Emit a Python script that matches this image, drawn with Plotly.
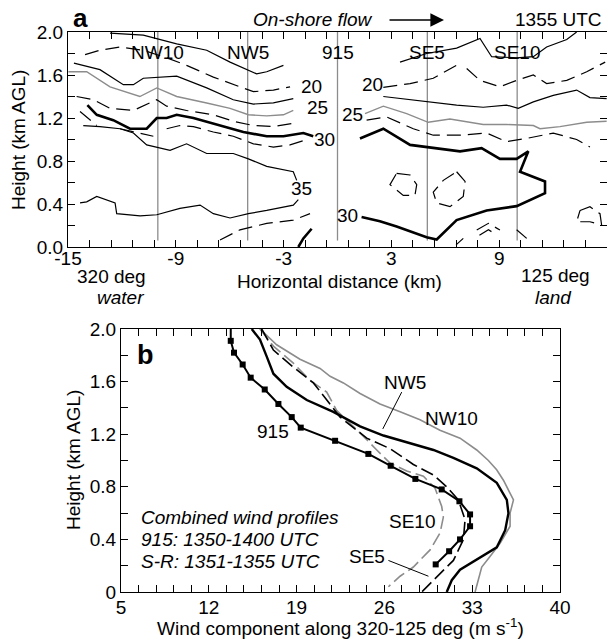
import plotly.graph_objects as go

# ---------------- Panel a : contour lines (km, km AGL) ----------------
stations_x = [-10, -5, 0, 5, 10]
stations_lbl = ["NW10", "NW5", "915", "SE5", "SE10"]
dist_ticks = [-15, -9, -3, 3, 9, 15]
dist_tick_text = ["-15", "-9", "-3", "3", "9", "15"]
height_ticks = [0, 0.4, 0.8, 1.2, 1.6, 2.0]
height_text_a = ["0.0", "0.4", "0.8", "1.2", "1.6", "2.0"]
height_text_b = ["0", "0.4", "0.8", "1.2", "1.6", "2.0"]
wind_ticks = [5, 12, 19, 26, 33, 40]

top_left_x = [-12.66, -10.81, -8.95, -7.28, -5.98, -5.06, -4.5, -3.94, -3.01]
top_left_y = [1.99, 1.97, 1.89, 1.83, 1.72, 1.65, 1.61, 1.63, 1.69]
top_right_x = [3.48, 4.96, 6.63, 7.93, 8.58, 9.97, 10.9, 11.64, 12.76, 13.31]
top_right_y = [1.72, 1.80, 1.85, 1.94, 1.77, 1.76, 1.77, 1.86, 1.93, 2.0]

d20_left_x = [-14.05, -13.22, -12.1, -10.81, -9.51, -8.4, -6.91, -5.8, -4.68, -3.57, -2.64]
d20_left_y = [1.79, 1.83, 1.86, 1.83, 1.76, 1.69, 1.58, 1.51, 1.445, 1.46, 1.49]
d20_right_x = [2.55, 4.04, 5.33, 6.63, None, 7.19, 7.93, 9.04, 9.97, 10.9, 11.64, 12.76, 13.87, 14.9]
d20_right_y = [1.485, 1.52, 1.57, 1.69, None, 1.66, 1.55, 1.49, 1.55, 1.60, 1.52, 1.55, 1.63, 1.72]

s22_left_x = [-14.67, -13.22, -11.92, -11.36, -10.81, -8.95, -7.28, -5.8, -4.68, -3.57, -2.46]
s22_left_y = [1.71, 1.65, 1.51, 1.51, 1.57, 1.59, 1.48, 1.37, 1.33, 1.34, 1.38]
s22_right_x = [2.55, 4.04, 5.33, 6.63, 8.11, 9.41, 10.06, 10.9, 12.01, 13.31, 14.05, 14.98]
s22_right_y = [1.40, 1.37, 1.35, 1.32, 1.30, 1.32, 1.29, 1.35, 1.41, 1.46, 1.39, 1.38]

g25_left_x = [-14.98, -13.96, -12.66, -11.0, -10.06, -8.95, -7.28, -5.98, -4.96, -3.94, -3.01, -2.46]
g25_left_y = [1.63, 1.63, 1.49, 1.40, 1.48, 1.40, 1.34, 1.29, 1.23, 1.22, 1.23, 1.27]
g25_right_x = [1.53, 2.55, 3.85, 5.05, 6.26, 8.11, 9.41, 10.9, 11.27, 12.38, 13.87, 14.98]
g25_right_y = [1.24, 1.31, 1.24, 1.16, 1.19, 1.14, 1.14, 1.13, 1.10, 1.12, 1.16, 1.17]

d27_left_x = [-14.52, -13.59, -12.66, -11.36, -10.06, -9.51, -8.4, -6.91, -5.8, -4.68, -3.57, -2.46]
d27_left_y = [1.40, 1.37, 1.29, 1.27, 1.37, 1.31, 1.27, 1.23, 1.17, 1.13, 1.12, 1.15]
d27_right_x = [1.62, 2.73, 4.22, 5.33, 6.82, 8.3, 9.41, 10.53, 12.01, 13.31, 14.05]
d27_right_y = [1.18, 1.21, 1.10, 1.04, 1.04, 1.06, 0.98, 1.01, 1.06, 1.0, 0.93]

s30_left_x = [-13.92, -13.4, -12.48, -11.55, -10.62, -10.06, -9.51, -8.95, -8.02, -6.73, -5.24, -3.94, -3.01, -1.9, -1.35]
s30_left_y = [1.32, 1.23, 1.18, 1.10, 1.10, 1.20, 1.20, 1.23, 1.20, 1.14, 1.07, 1.03, 1.03, 1.06, 1.03]
s30_right_x = [1.25, 2.55, 4.04, 5.33, 6.82, 8.02, 9.04, 9.97, 10.62, 10.16, 11.55, 11.55, 9.97, 8.3, 6.63, 5.52, 4.96, 3.29, 2.36, 1.34]
s30_right_y = [1.01, 1.10, 0.95, 0.92, 0.89, 0.92, 0.82, 0.82, 0.89, 0.70, 0.61, 0.50, 0.38, 0.34, 0.25, 0.07, 0.09, 0.19, 0.24, 0.28]
s30_bottom_x = [-2.18, -1.9, -1.44]
s30_bottom_y = [0.0, 0.08, 0.17]

d32_left_x = [-14.33, -13.4, None, -12.1, -11.36, -10.25, None, -9.51, -8.77, -8.02, -6.91, -5.8, -4.68, -3.57, -2.64, -1.7]
d32_left_y = [1.26, 1.13, None, 1.10, 1.07, 1.03, None, 1.10, 1.13, 1.12, 1.07, 1.03, 0.96, 0.93, 0.95, 1.0]

s35_x = [-14.15, -13.22, -12.1, -11.36, -10.62, -9.88, -9.32, -8.4, -7.28, -5.8, -4.96, -3.94, -2.46, -2.27,
         None, -2.18, -2.46, -3.94, -4.96, -5.98, -6.91, -7.65, -8.77, -10.06, -10.99, -12.29, -12.38, -13.4, -13.96, -14.33]
s35_y = [1.13, 1.12, 1.10, 1.06, 0.95, 0.92, 0.90, 0.96, 0.87, 0.87, 0.82, 0.75, 0.70, 0.62,
         None, 0.44, 0.39, 0.34, 0.31, 0.27, 0.31, 0.39, 0.36, 0.30, 0.29, 0.31, 0.41, 0.47, 0.42, 0.41]

dbot_x = [-6.54, -5.43, -3.94, -2.46, -1.53]
dbot_y = [0.065, 0.16, 0.22, 0.25, 0.31]

loop1_x = [3.29, 4.04, 4.41, 4.31, 3.66, 2.92, 3.29]
loop1_y = [0.685, 0.67, 0.58, 0.48, 0.48, 0.58, 0.685]
loop2_x = [6.63, 7.1, 7.0, 6.26, 5.52, 5.33, 5.89, 6.63]
loop2_y = [0.70, 0.61, 0.47, 0.375, 0.41, 0.51, 0.62, 0.70]
loop3_x = [13.5, 14.05, 14.61, 14.7, 14.05, 13.31, 13.5]
loop3_y = [0.34, 0.375, 0.31, 0.205, 0.235, 0.235, 0.34]
chev_x = [7.75, 8.4, 9.04, None, 7.9, 8.4, 8.9, None, 9.97, 10.53, None, 6.6, 7.0]
chev_y = [0.158, 0.22, 0.158, None, 0.11, 0.16, 0.11, None, 0.16, 0.08, None, 0.02, 0.08]

contour_labels = ["20", "25", "30", "35", "20", "25", "30"]
contour_lbl_x = [-1.42, -1.09, -0.70, -1.98, 1.92, 0.86, 0.58]
contour_lbl_y = [1.49, 1.30, 1.00, 0.54, 1.51, 1.23, 0.29]

# ---------------- Panel b : wind profiles ----------------
p915_u = [13.75, 13.75, 14.01, 14.70, 15.34, 16.46, 17.55, 18.61, 19.33, 22.07, 24.72, 26.5, 28.47, 30.57, 31.98, 32.83, 32.83, 32.03, 31.16, 30.09]
p915_h = [2.0, 1.91, 1.82, 1.73, 1.63, 1.54, 1.43, 1.33, 1.25, 1.15, 1.05, 0.96, 0.86, 0.78, 0.69, 0.59, 0.50, 0.40, 0.31, 0.21]

nw10_u = [16.08, 17.41, 19.27, 20.87, 21.67, 22.73, 24.06, 25.65, 27.25, 28.84, 30.43, 32.03, 33.36, 34.29, 34.95, 35.49, 36.29, 36.02, 36.02, 35.22, 34.42, 33.76, 33.23]
nw10_h = [2.0, 1.88, 1.77, 1.70, 1.64, 1.59, 1.51, 1.43, 1.37, 1.31, 1.23, 1.17, 1.08, 1.0, 0.93, 0.85, 0.70, 0.60, 0.50, 0.37, 0.27, 0.19, 0.0]

nw5_u = [15.42, 16.08, 16.62, 17.15, 18.21, 19.81, 21.93, 24.06, 25.92, 28.05, 29.91, 31.5, 33.36, 34.96, 35.76, 35.89, 35.63, 34.96, 33.63, 32.03, 31.37, 30.97]
nw5_h = [2.0, 1.92, 1.79, 1.66, 1.56, 1.46, 1.37, 1.26, 1.19, 1.13, 1.08, 1.02, 0.94, 0.83, 0.70, 0.60, 0.47, 0.34, 0.26, 0.17, 0.09, 0.0]

se5_u = [16.22, 17.15, 18.74, 20.34, 22.47, 24.59, 26.45, 28.31, 29.91, 30.97, 31.9, 32.43, 32.3, 31.5, 30.44, 28.98]
se5_h = [2.0, 1.84, 1.71, 1.59, 1.33, 1.17, 1.09, 0.97, 0.89, 0.80, 0.70, 0.55, 0.40, 0.24, 0.14, 0.0]

se10_u = [16.08, 17.15, 18.74, 20.07, 21.4, 22.2, 22.73, 24.06, 25.39, 26.45, 27.78, 29.11, 30.04, 30.57, 30.7, 30.44, 29.64, 28.31, 27.25, 26.32]
se10_h = [2.0, 1.87, 1.74, 1.61, 1.52, 1.38, 1.33, 1.21, 1.08, 0.98, 0.92, 0.88, 0.79, 0.65, 0.57, 0.45, 0.32, 0.19, 0.12, 0.04]

profile_labels = ["915", "NW5", "NW10", "SE10", "SE5"]
profile_lbl_u = [17.1, 27.65, 31.37, 28.18, 24.6]
profile_lbl_h = [1.22, 1.59, 1.32, 0.535, 0.27]
nw5_leader_u = [27.38, 25.87]
nw5_leader_h = [1.52, 1.24]
se5_leader_u = [26.32, 29.51]
se5_leader_h = [0.24, 0.12]

FONT = "Liberation Sans, Arial, sans-serif"
FS = 19
TFS = 19
GRAY = "#8c8c8c"
DASH_A = "14px,7px"
DASH_B = "13px,5px"

# page body has an 8px margin; figure is sized to fill the rest of the window
OFF = 8
W, H = 615 - OFF, 641 - OFF

def PX(px):
    return (px - OFF) / W

def PY(py):
    return 1 - (py - OFF) / H

fig = go.Figure()

def add(x, y, xa="x", ya="y", color="black", width=1.2, dash="solid"):
    fig.add_trace(go.Scatter(x=x, y=y, mode="lines", xaxis=xa, yaxis=ya,
                             line=dict(color=color, width=width, dash=dash),
                             hoverinfo="skip", showlegend=False, connectgaps=False))

# station vertical lines
vx, vy = [], []
for s in stations_x:
    vx += [s, s, None]
    vy += [0.06, 2.0, None]
add(vx, vy, color=GRAY, width=1.3)

add(top_left_x, top_left_y)
add(top_right_x, top_right_y)
add(d20_left_x, d20_left_y, dash=DASH_A)
add(d20_right_x, d20_right_y, dash=DASH_A)
add(s22_left_x, s22_left_y)
add(s22_right_x, s22_right_y)
add(g25_left_x, g25_left_y, color=GRAY, width=1.4)
add(g25_right_x, g25_right_y, color=GRAY, width=1.4)
add(d27_left_x, d27_left_y, dash=DASH_A)
add(d27_right_x, d27_right_y, dash=DASH_A)
add(s30_left_x, s30_left_y, width=2.6)
add(s30_right_x, s30_right_y, width=2.6)
add(s30_bottom_x, s30_bottom_y, width=2.6)
add(d32_left_x, d32_left_y, dash=DASH_A)
add(s35_x, s35_y)
add(dbot_x, dbot_y, dash=DASH_A)
add(loop1_x, loop1_y, dash=DASH_A)
add(loop2_x, loop2_y, dash=DASH_A)
add(loop3_x, loop3_y, dash=DASH_A)
add(chev_x, chev_y, dash=DASH_A)

# panel b profiles
add(nw10_u, nw10_h, "x2", "y2", color=GRAY, width=1.6)
add(se10_u, se10_h, "x2", "y2", color=GRAY, width=1.6, dash=DASH_B)
add(se5_u, se5_h, "x2", "y2", width=1.6, dash=DASH_B)
add(nw5_u, nw5_h, "x2", "y2", width=2.4)
add(p915_u, p915_h, "x2", "y2", width=2.0)
fig.add_trace(go.Scatter(x=p915_u[1:], y=p915_h[1:], mode="markers", xaxis="x2", yaxis="y2",
                         marker=dict(symbol="square", size=6, color="black"),
                         hoverinfo="skip", showlegend=False))
add(nw5_leader_u, nw5_leader_h, "x2", "y2", width=1.0)
add(se5_leader_u, se5_leader_h, "x2", "y2", width=1.0)

ann = []
for s, t in zip(stations_x, stations_lbl):
    ann.append(dict(x=s, y=1.81, xref="x", yref="y", text=t, showarrow=False,
                    font=dict(family=FONT, size=FS, color="black")))
for t, x, y in zip(contour_labels, contour_lbl_x, contour_lbl_y):
    ann.append(dict(x=x, y=y, xref="x", yref="y", text=t, showarrow=False,
                    font=dict(family=FONT, size=FS, color="black")))
for t, x, y in zip(profile_labels, profile_lbl_u, profile_lbl_h):
    ann.append(dict(x=x, y=y, xref="x2", yref="y2", text=t, showarrow=False,
                    font=dict(family=FONT, size=FS, color="black")))

def pann(px, py, text, size=FS, bold=False, italic=False, xanchor="center", angle=0):
    if bold:
        text = "<b>" + text + "</b>"
    if italic:
        text = "<i>" + text + "</i>"
    ann.append(dict(x=PX(px), y=PY(py), xref="paper", yref="paper", text=text,
                    showarrow=False, xanchor=xanchor, yanchor="middle", textangle=angle,
                    font=dict(family=FONT, size=size, color="black")))

pann(80, 18, "a", size=26, bold=True)
pann(313, 19, "On-shore flow", italic=True)
pann(558, 20, "1355 UTC")
pann(19, 140, "Height (km AGL)", angle=-90)
pann(111, 276, "320 deg")
pann(120, 298, "water", italic=True)
pann(339, 281, "Horizontal distance (km)")
pann(555, 275, "125 deg")
pann(553, 297, "land", italic=True)
pann(145, 355, "b", size=27, bold=True)
pann(73, 460, "Height (km AGL)", angle=-90)
pann(340, 627, "Wind component along 320-125 deg (m s<sup>-1</sup>)")
pann(139, 517, "Combined wind profiles", italic=True, xanchor="left")
pann(139, 539, "915: 1350-1400 UTC", italic=True, xanchor="left")
pann(139, 561, "S-R: 1351-1355 UTC", italic=True, xanchor="left")

# arrow for on-shore flow
ann.append(dict(x=PX(444), y=PY(20), xref="paper", yref="paper", ax=-56, ay=0,
                text="", showarrow=True, arrowhead=2, arrowsize=1.7, arrowwidth=1.6,
                arrowcolor="black"))

axcommon = dict(showgrid=False, zeroline=False, showline=True, linecolor="black", linewidth=1.2,
                mirror="allticks", ticks="inside", ticklen=7, tickwidth=1.1, tickcolor="black",
                tickfont=dict(family=FONT, size=TFS, color="black"))

fig.update_layout(
    width=W, height=H, margin=dict(l=0, r=0, t=0, b=0, autoexpand=False),
    paper_bgcolor="white", plot_bgcolor="white", showlegend=False,
    annotations=ann,
    xaxis=dict(axcommon, domain=[PX(68), PX(607)], range=[-15, 15], anchor="y",
               tickvals=dist_ticks, ticktext=dist_tick_text, ticklabelstandoff=-6,
               minor=dict(ticks="inside", dtick=1.2, tick0=-15, ticklen=7, tickcolor="black")),
    yaxis=dict(axcommon, domain=[PY(247), PY(32)], range=[0, 2], anchor="x",
               tickvals=height_ticks, ticktext=height_text_a,
               minor=dict(ticks="inside", dtick=0.2, tick0=0, ticklen=7, tickcolor="black")),
    xaxis2=dict(axcommon, domain=[PX(121), PX(560)], range=[5, 40], anchor="y2",
                tickvals=wind_ticks, ticklabelstandoff=-2,
                minor=dict(ticks="inside", dtick=1.4, tick0=5, ticklen=7, tickcolor="black")),
    yaxis2=dict(axcommon, domain=[PY(592), PY(329)], range=[0, 2], anchor="x2",
                tickvals=height_ticks, ticktext=height_text_b,
                minor=dict(ticks="inside", dtick=0.2, tick0=0, ticklen=7, tickcolor="black")),
)

fig.write_html("out.html")
